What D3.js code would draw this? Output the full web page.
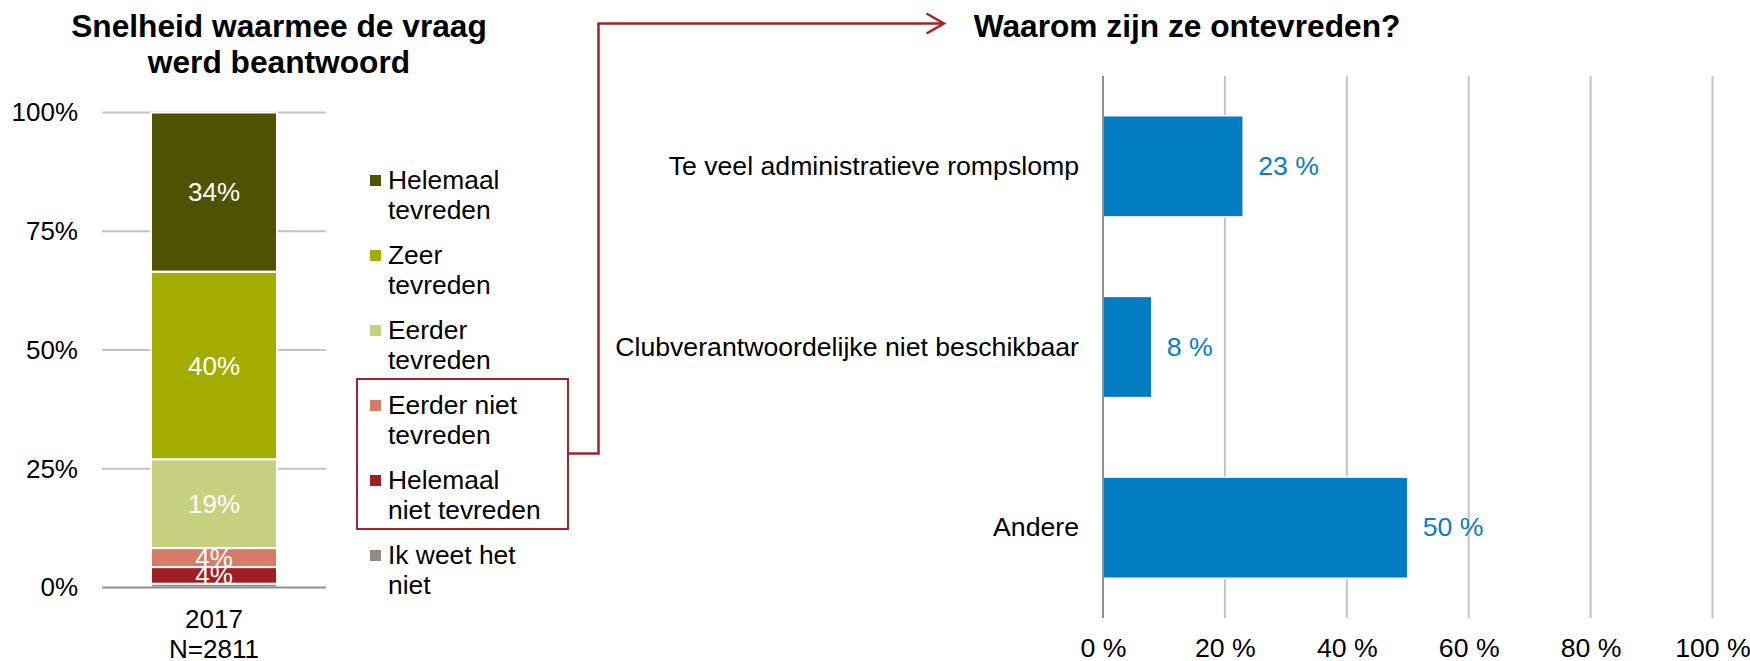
<!DOCTYPE html>
<html>
<head>
<meta charset="utf-8">
<script src="https://cdn.jsdelivr.net/npm/d3@7"></script>
<style>
  html, body { margin: 0; padding: 0; background: #fff; }
  svg { display: block; font-family: "Liberation Sans", Arial, sans-serif; }
</style>
</head>
<body>
<svg id="chart" width="1750" height="661"></svg>
<script>
// Left panel: speed of answering, one stacked 100% bar
const years = ["2017"];
const sampleSize = "N=2811";
const segmentNames = ["Ik weet het niet", "Helemaal niet tevreden", "Eerder niet tevreden",
                      "Eerder tevreden", "Zeer tevreden", "Helemaal tevreden"];
const segmentValues = [0.8, 3.5, 4.0, 18.7, 39.5, 33.5];
const segmentColors = ["#948a85", "#a11f24", "#d67b67", "#c8cf7e", "#a3ad00", "#4f5300"];
const legendLines = [
  ["Helemaal", "tevreden"],
  ["Zeer", "tevreden"],
  ["Eerder", "tevreden"],
  ["Eerder niet", "tevreden"],
  ["Helemaal", "niet tevreden"],
  ["Ik weet het", "niet"]
];
const leftTicks = [0, 25, 50, 75, 100];

// Right panel: reasons for dissatisfaction
const reasons = ["Te veel administratieve rompslomp", "Clubverantwoordelijke niet beschikbaar", "Andere"];
const reasonValues = [23, 8, 50];
const rightTicks = [0, 20, 40, 60, 80, 100];

const svg = d3.select("#chart");
const FONT = 26;
const FONT_L = 26.67;
const gridColor = "#c3c3c3";
const axisColor = "#8f8f8f";
const accent = "#a3232b";
const fam = "Liberation Sans, Arial, sans-serif";

// ---------- left panel ----------
const yL = d3.scaleLinear().domain([0, 100]).range([587.5, 112.5]);
const xL = d3.scaleBand().domain(years).range([102, 326]).padding(0.28);

svg.append("text")
  .attr("x", 279).attr("y", 37)
  .attr("text-anchor", "middle")
  .attr("font-size", 31.7).attr("font-weight", "bold")
  .selectAll("tspan")
  .data(["Snelheid waarmee de vraag", "werd beantwoord"])
  .join("tspan")
  .attr("x", 279)
  .attr("dy", (d, i) => i === 0 ? 0 : 36)
  .text(d => d);

// gridlines
svg.append("g").selectAll("line")
  .data(leftTicks.filter(t => t > 0))
  .join("line")
  .attr("x1", 102).attr("x2", 326)
  .attr("y1", d => yL(d)).attr("y2", d => yL(d))
  .attr("stroke", gridColor).attr("stroke-width", 2);

// y-axis labels
const leftAxis = svg.append("g")
  .attr("transform", "translate(102,0)")
  .call(d3.axisLeft(yL).tickValues(leftTicks).tickFormat(d => d + "%").tickSize(0).tickPadding(24));
leftAxis.select(".domain").remove();
leftAxis.selectAll("text").attr("font-size", FONT).attr("fill", "#000").attr("font-family", fam);

// stacked segments
const row = {};
segmentNames.forEach((n, i) => row[n] = segmentValues[i]);
const stacked = d3.stack().keys(segmentNames)([row]);

const segs = svg.append("g");
stacked.forEach((layer, i) => {
  const d = layer[0];
  segs.append("rect")
    .attr("x", xL(years[0]))
    .attr("width", xL.bandwidth())
    .attr("y", yL(d[1]))
    .attr("height", yL(d[0]) - yL(d[1]))
    .attr("fill", segmentColors[i])
    .attr("stroke", "#fff").attr("stroke-width", 2);
});
// value labels inside segments
stacked.forEach((layer, i) => {
  const d = layer[0];
  const v = segmentValues[i];
  if (v < 2) return;
  segs.append("text")
    .attr("x", xL(years[0]) + xL.bandwidth() / 2)
    .attr("y", (yL(d[0]) + yL(d[1])) / 2)
    .attr("dy", "0.35em")
    .attr("text-anchor", "middle")
    .attr("font-size", FONT).attr("fill", "#fff")
    .text(Math.round(v) + "%");
});

// baseline
svg.append("line")
  .attr("x1", 102).attr("x2", 326)
  .attr("y1", yL(0)).attr("y2", yL(0))
  .attr("stroke", axisColor).attr("stroke-width", 2);

// category label
const catAxis = svg.append("g")
  .attr("transform", `translate(0,${yL(0)})`)
  .call(d3.axisBottom(xL).tickSize(0).tickPadding(22));
catAxis.select(".domain").remove();
catAxis.selectAll("text")
  .attr("font-size", FONT).attr("fill", "#000").attr("font-family", fam)
  .each(function () {
    d3.select(this).append("tspan")
      .attr("x", 0).attr("dy", 30).text(sampleSize);
  });

// legend (top to bottom: Helemaal tevreden ... Ik weet het niet)
const legendOrder = d3.range(segmentNames.length).reverse();
const legend = svg.append("g");
legendOrder.forEach((idx, k) => {
  const base = 189 + k * 75;
  legend.append("rect")
    .attr("x", 370).attr("y", base - 14)
    .attr("width", 11).attr("height", 11)
    .attr("fill", segmentColors[idx]);
  legend.append("text")
    .attr("x", 388).attr("y", base)
    .attr("font-size", 26.4).attr("fill", "#000")
    .selectAll("tspan")
    .data(legendLines[k])
    .join("tspan")
    .attr("x", 388)
    .attr("dy", (d, i) => i === 0 ? 0 : 30)
    .text(d => d);
});

// highlight box around the two dissatisfied categories, linking to the right panel
svg.append("rect")
  .attr("x", 357).attr("y", 379)
  .attr("width", 211).attr("height", 150)
  .attr("fill", "none").attr("stroke", accent).attr("stroke-width", 2);

svg.append("path")
  .attr("d", "M568,453.5 H598.5 V23.5 H943")
  .attr("fill", "none").attr("stroke", accent).attr("stroke-width", 2.5);
svg.append("path")
  .attr("d", "M926.5,13.5 L944,23.5 L926.5,33.5")
  .attr("fill", "none").attr("stroke", accent).attr("stroke-width", 2.5);

// ---------- right panel ----------
const xR = d3.scaleLinear().domain([0, 100]).range([1103, 1712.5]);
const yR = d3.scaleBand().domain(reasons).range([76, 618]).paddingInner(0.44).paddingOuter(0.22);

svg.append("text")
  .attr("x", 1187).attr("y", 37)
  .attr("text-anchor", "middle")
  .attr("font-size", 31.7).attr("font-weight", "bold")
  .text("Waarom zijn ze ontevreden?");

svg.append("g").selectAll("line")
  .data(rightTicks.filter(t => t > 0))
  .join("line")
  .attr("x1", d => xR(d)).attr("x2", d => xR(d))
  .attr("y1", 76).attr("y2", 618)
  .attr("stroke", gridColor).attr("stroke-width", 2);

svg.append("g").selectAll("rect")
  .data(reasons)
  .join("rect")
  .attr("x", xR(0))
  .attr("y", d => yR(d))
  .attr("width", (d, i) => xR(reasonValues[i]) - xR(0))
  .attr("height", yR.bandwidth())
  .attr("fill", "#027cc2")
  .attr("stroke", "#fff").attr("stroke-width", 1.5);

svg.append("g").selectAll("text")
  .data(reasons)
  .join("text")
  .attr("x", (d, i) => xR(reasonValues[i]) + 15)
  .attr("y", d => yR(d) + yR.bandwidth() / 2)
  .attr("dy", "0.32em")
  .attr("font-size", FONT_L).attr("fill", "#0a7cc4")
  .text((d, i) => reasonValues[i] + " %");

svg.append("line")
  .attr("x1", xR(0)).attr("x2", xR(0))
  .attr("y1", 76).attr("y2", 618)
  .attr("stroke", axisColor).attr("stroke-width", 2);

const reasonAxis = svg.append("g")
  .attr("transform", `translate(${xR(0)},0)`)
  .call(d3.axisLeft(yR).tickSize(0).tickPadding(24));
reasonAxis.select(".domain").remove();
reasonAxis.selectAll("text").attr("font-size", FONT_L).attr("fill", "#000").attr("font-family", fam);

const pctAxis = svg.append("g")
  .attr("transform", "translate(0,618)")
  .call(d3.axisBottom(xR).tickValues(rightTicks).tickFormat(d => d + " %").tickSize(0).tickPadding(20));
pctAxis.select(".domain").remove();
pctAxis.selectAll("text").attr("font-size", FONT_L).attr("fill", "#000").attr("font-family", fam);
</script>
</body>
</html>
